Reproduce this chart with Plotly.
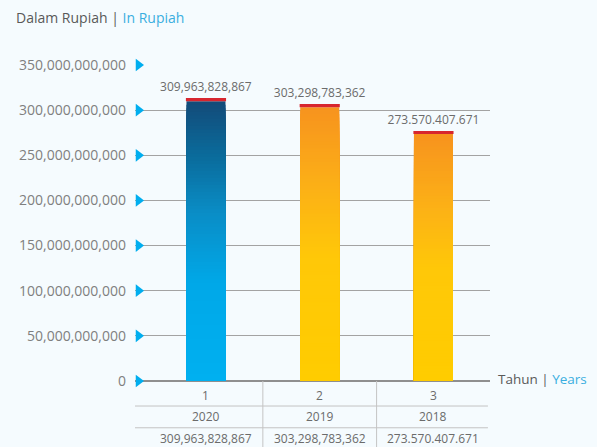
import plotly.graph_objects as go

# ---- data ----
categories = ["1", "2", "3"]
years = ["2020", "2019", "2018"]
values = [309963828867, 303298783362, 273570407671]
value_labels = ["309,963,828,867", "303,298,783,362", "273.570.407.671"]
y_ticks = [0, 50e9, 100e9, 150e9, 200e9, 250e9, 300e9, 350e9]

# ---- style ----
FONT = "Open Sans"
BG = "#f5fbfe"
GRAY_TXT = "#7f7f7f"
DARK_TXT = "#595959"
BLUE_TXT = "#3aaee0"
blue_stops = [(0.0, "#00b0f0"), (0.35, "#00a8e8"), (0.6, "#0a8dc6"), (0.8, "#0a6c9c"), (1.0, "#134b79")]
orange_stops = [(0.0, "#ffcc00"), (0.45, "#ffc808"), (0.7, "#fcb116"), (1.0, "#f7931e")]
bar_stops = [blue_stops, orange_stops, orange_stops]
N = 80
BAR_W = 0.343
CAP = 3.4e9

def hex2rgb(h):
    h = h.lstrip("#")
    return tuple(int(h[i:i + 2], 16) for i in (0, 2, 4))

def grad(stops, t):
    for (t0, c0), (t1, c1) in zip(stops[:-1], stops[1:]):
        if t <= t1:
            f = (t - t0) / (t1 - t0) if t1 > t0 else 0
            a, b = hex2rgb(c0), hex2rgb(c1)
            return "rgb(%d,%d,%d)" % tuple(round(a[k] + (b[k] - a[k]) * f) for k in range(3))
    return stops[-1][1]

xs = list(range(len(categories)))

fig = go.Figure()

# gradient bars: nested bars drawn from tallest (top colour) to shortest (bottom colour)
gx, gy, gc = [], [], []
for i in range(N):
    frac = (N - i) / N
    for j, v in enumerate(values):
        gx.append(xs[j])
        gy.append(v * frac)
        gc.append(grad(bar_stops[j], frac - 0.5 / N))
fig.add_trace(go.Bar(x=gx, y=gy, width=BAR_W, marker=dict(color=gc, line=dict(width=0)),
                     hoverinfo="skip", showlegend=False))

# red caps with value labels
fig.add_trace(go.Bar(x=xs, y=[CAP] * len(values), base=values, width=BAR_W + 0.01,
                     marker=dict(color="#d7262f", line=dict(width=0)), showlegend=False,
                     text=value_labels, textposition="outside", cliponaxis=False,
                     constraintext="none",
                     textfont=dict(family=FONT, size=12, color="#6b6b6b")))

# tick triangles
fig.add_trace(go.Scatter(x=[-0.593] * len(y_ticks), y=y_ticks, mode="markers",
                         marker=dict(symbol="triangle-right", size=11, color="#00aeef"),
                         cliponaxis=False, showlegend=False, hoverinfo="skip"))

# table below the axis
row_y = [-0.0466, -0.113, -0.182]
line_col = "#c4c4c4"
shapes = []
for yy in [-0.0792, -0.148]:
    shapes.append(dict(type="line", xref="x", yref="paper", x0=-0.626, x1=2.479, y0=yy, y1=yy,
                       line=dict(color=line_col, width=1)))
for xx in [0.5, 1.5]:
    shapes.append(dict(type="line", xref="x", yref="paper", x0=xx, x1=xx, y0=0, y1=-0.215,
                       line=dict(color=line_col, width=1)))

annotations = []
for j in range(len(categories)):
    for r, txt in enumerate([categories[j], years[j], value_labels[j]]):
        annotations.append(dict(x=xs[j], y=row_y[r], xref="x", yref="paper", text=txt,
                                showarrow=False, xanchor="center", yanchor="middle",
                                font=dict(family=FONT, size=12, color="#6b6b6b")))

annotations.append(dict(x=-0.341, y=1.15, xref="paper", yref="paper", xanchor="left", yanchor="middle",
                        showarrow=False,
                        text="<span style='color:%s'>Dalam Rupiah | </span><span style='color:%s'>In Rupiah</span>" % (DARK_TXT, BLUE_TXT),
                        font=dict(family=FONT, size=14)))
annotations.append(dict(x=1.016, y=0.006, xref="paper", yref="paper", xanchor="left", yanchor="middle",
                        showarrow=False,
                        text="<span style='color:%s'>Tahun | </span><span style='color:%s'>Years</span>" % (DARK_TXT, BLUE_TXT),
                        font=dict(family=FONT, size=13.5)))

# the page body has an 8px margin, so the figure is drawn 8px smaller and offset
fig.update_layout(
    width=589, height=439,
    margin=dict(l=127, r=107, t=57, b=66),
    paper_bgcolor=BG, plot_bgcolor=BG,
    barmode="overlay",
    showlegend=False,
    shapes=shapes,
    annotations=annotations,
    font=dict(family=FONT),
    xaxis=dict(range=[-0.624, 2.497], showticklabels=False, showgrid=False, zeroline=False,
               showline=False, fixedrange=True),
    yaxis=dict(range=[0, 350e9], tickvals=y_ticks, tickformat=",", showgrid=True,
               gridcolor="#a3a3a3", gridwidth=1.4, zeroline=True, zerolinecolor="#8f8f8f",
               zerolinewidth=1.6, showline=False, ticks="", ticklabelstandoff=8,
               tickfont=dict(family=FONT, size=14, color=GRAY_TXT)),
)

fig.write_html("out.html", post_script="document.body.style.background='%s';" % BG)
